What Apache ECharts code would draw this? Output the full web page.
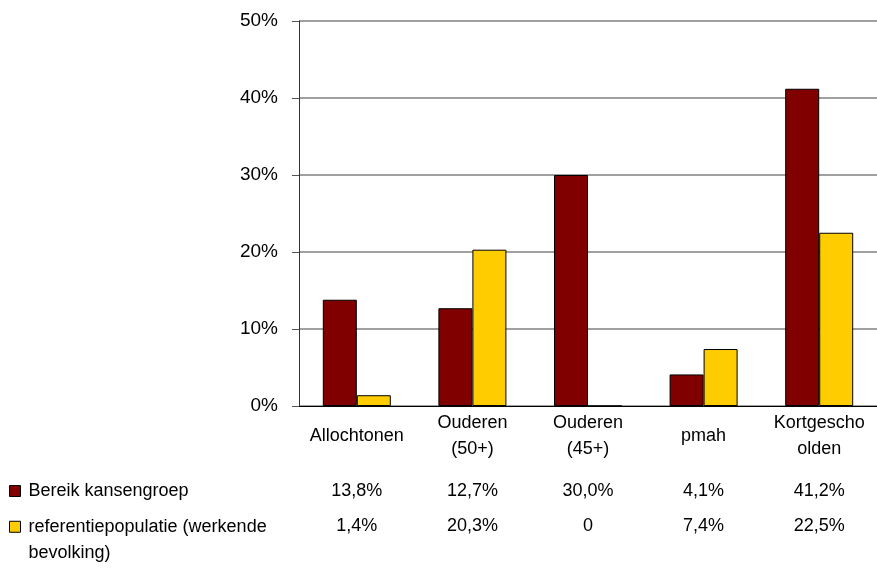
<!DOCTYPE html>
<html>
<head>
<meta charset="utf-8">
<script src="https://cdn.jsdelivr.net/npm/echarts@6/dist/echarts.min.js"></script>
<style>
  html, body { margin: 0; padding: 0; background: #fff; }
  #chart { width: 877px; height: 568px; }
</style>
</head>
<body>
<div id="chart"></div>
<script>
// data
var categories = ['Allochtonen', 'Ouderen\n(50+)', 'Ouderen\n(45+)', 'pmah', 'Kortgescho\nolden'];
var seriesNames = ['Bereik kansengroep', 'referentiepopulatie (werkende bevolking)'];
var bereik = [13.8, 12.7, 30.0, 4.1, 41.2];
var referentie = [1.4, 20.3, 0, 7.4, 22.5];
var yTicks = [0, 10, 20, 30, 40, 50];

function fmt(v) {
    if (v === 0) return '0';
    return v.toFixed(1).replace('.', ',') + '%';
}

var font = '"Liberation Sans", Arial, Helvetica, sans-serif';
var myChart = echarts.init(document.getElementById('chart'));

myChart.setOption({
    animation: false,
    color: ['#800000', '#FFCC00'],
    textStyle: { fontFamily: font },
    grid: { left: 299, top: 21, width: 588, height: 385 },
    legend: [
        {
            orient: 'vertical',
            left: 9,
            top: 478,
            padding: 0,
            itemWidth: 11,
            itemHeight: 11,
            icon: 'rect',
            selectedMode: false,
            itemStyle: { borderColor: '#000', borderWidth: 1 },
            textStyle: { fontSize: 18, color: '#000', lineHeight: 26, padding: [0, 0, 0, 3] },
            data: [seriesNames[0]]
        },
        {
            orient: 'vertical',
            left: 9,
            top: 487,
            padding: 0,
            itemWidth: 11,
            itemHeight: 11,
            icon: 'rect',
            selectedMode: false,
            itemStyle: { borderColor: '#000', borderWidth: 1 },
            textStyle: { fontSize: 18, color: '#000', lineHeight: 26.5, padding: [0, 0, 0, 3] },
            // empty first line keeps the icon next to the first visible line
            formatter: function (name) { return '\nreferentiepopulatie (werkende\nbevolking)'; },
            data: [seriesNames[1]]
        }
    ],
    xAxis: [
        {
            type: 'category',
            data: categories,
            axisLine: { lineStyle: { color: '#000', width: 1 } },
            axisTick: { show: false },
            axisLabel: {
                interval: 0, margin: 30, verticalAlign: 'middle',
                fontSize: 18, color: '#000', lineHeight: 26
            }
        },
        {
            type: 'category',
            position: 'bottom',
            offset: 85,
            data: bereik.map(fmt),
            axisLine: { show: false },
            axisTick: { show: false },
            axisLabel: { interval: 0, margin: 0, verticalAlign: 'middle', fontSize: 18, color: '#000' }
        },
        {
            type: 'category',
            position: 'bottom',
            offset: 120,
            data: referentie.map(fmt),
            axisLine: { show: false },
            axisTick: { show: false },
            axisLabel: { interval: 0, margin: 0, verticalAlign: 'middle', fontSize: 18, color: '#000' }
        }
    ],
    yAxis: {
        type: 'value',
        min: yTicks[0],
        max: yTicks[yTicks.length - 1],
        interval: 10,
        axisLine: { show: true, lineStyle: { color: '#333' } },
        axisTick: { show: true, length: 7, lineStyle: { color: '#555' } },
        axisLabel: { formatter: '{value}%', fontSize: 19, color: '#000', margin: 21 },
        splitLine: { lineStyle: { color: '#808080', width: 1.5 } }
    },
    series: [
        {
            name: seriesNames[0],
            type: 'bar',
            barWidth: 34,
            barGap: '0%',
            itemStyle: { borderColor: '#000', borderWidth: 1 },
            data: bereik
        },
        {
            name: seriesNames[1],
            type: 'bar',
            barWidth: 34,
            barGap: '0%',
            itemStyle: { borderColor: '#000', borderWidth: 1 },
            data: referentie
        }
    ]
});
</script>
</body>
</html>
